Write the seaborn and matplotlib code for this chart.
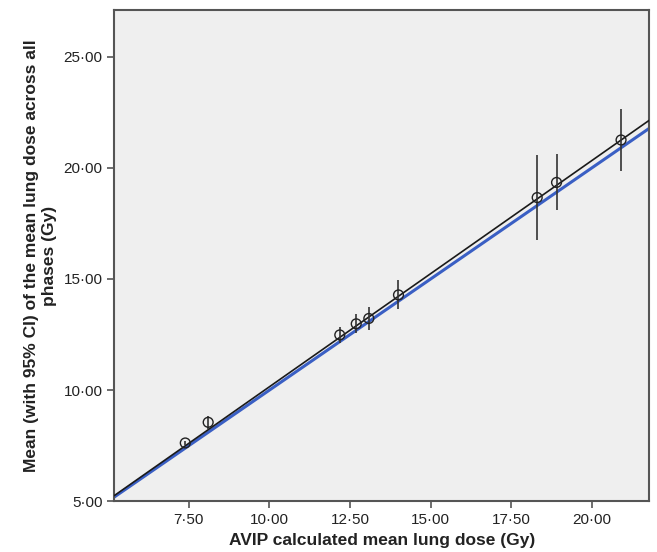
import numpy as np
import pandas as pd
import matplotlib
matplotlib.use("Agg")
import matplotlib.pyplot as plt
from matplotlib.ticker import FuncFormatter, MultipleLocator
import seaborn as sns

# values
avip_dose = [7.39, 8.10, 12.18, 12.69, 13.08, 14.00, 18.30, 18.90, 20.90]
mean_dose = [7.62, 8.55, 12.48, 12.98, 13.22, 14.28, 18.66, 19.34, 21.25]
ci_half = [0.08, 0.29, 0.37, 0.43, 0.52, 0.65, 1.92, 1.26, 1.39]

fit_slope = 1.018
fit_intercept = -0.03
x_range = [5.19, 21.77]
y_range = [5.0, 27.1]

data = pd.DataFrame({"avip": avip_dose, "mean": mean_dose, "ci": ci_half})

sns.set_style("ticks", {"axes.facecolor": "#efefef", "axes.edgecolor": "#555555"})
plt.rcParams["font.family"] = ["Liberation Sans", "DejaVu Sans"]

fig, ax = plt.subplots(figsize=(6.57, 5.52), dpi=100)
fig.subplots_adjust(left=0.174, right=0.988, bottom=0.092, top=0.982)

# identity line and fitted line
ax.axline((0, 0), slope=1, color="#3a5fc4", lw=2.2, zorder=2)
ax.axline((0, fit_intercept), slope=fit_slope, color="#1a1a1a", lw=1.2, zorder=3)

# 95% CI bars, no caps
ax.errorbar(data["avip"], data["mean"], yerr=data["ci"], fmt="none",
            ecolor="#333333", elinewidth=1.2, capsize=0, zorder=4)
sns.scatterplot(data=data, x="avip", y="mean", ax=ax, marker="o",
                facecolor="none", edgecolor="#222222", linewidth=1.0,
                s=50, zorder=5)

ax.set_xlim(x_range)
ax.set_ylim(y_range)
ax.yaxis.set_major_locator(MultipleLocator(5))
fmt = FuncFormatter(lambda v, p: f"{v:.2f}".replace(".", "\u00b7"))
# no 5.00 tick at the left edge of the x axis
ax.set_xticks(np.arange(7.5, 21, 2.5))
ax.xaxis.set_major_formatter(fmt)
ax.yaxis.set_major_formatter(fmt)

ax.tick_params(axis="both", direction="out", length=5, width=1.2,
               color="#555555", labelsize=11, labelcolor="#222222")
for s in ax.spines.values():
    s.set_linewidth(1.5)
    s.set_visible(True)

ax.set_xlabel("AVIP calculated mean lung dose (Gy)", fontsize=12.5,
              fontweight="bold", color="#222222", labelpad=4)
ax.set_ylabel("Mean (with 95% CI) of the mean lung dose across all\nphases (Gy)",
              fontsize=12.5, fontweight="bold", color="#222222", labelpad=5)

fig.savefig("out.png", dpi=100)
